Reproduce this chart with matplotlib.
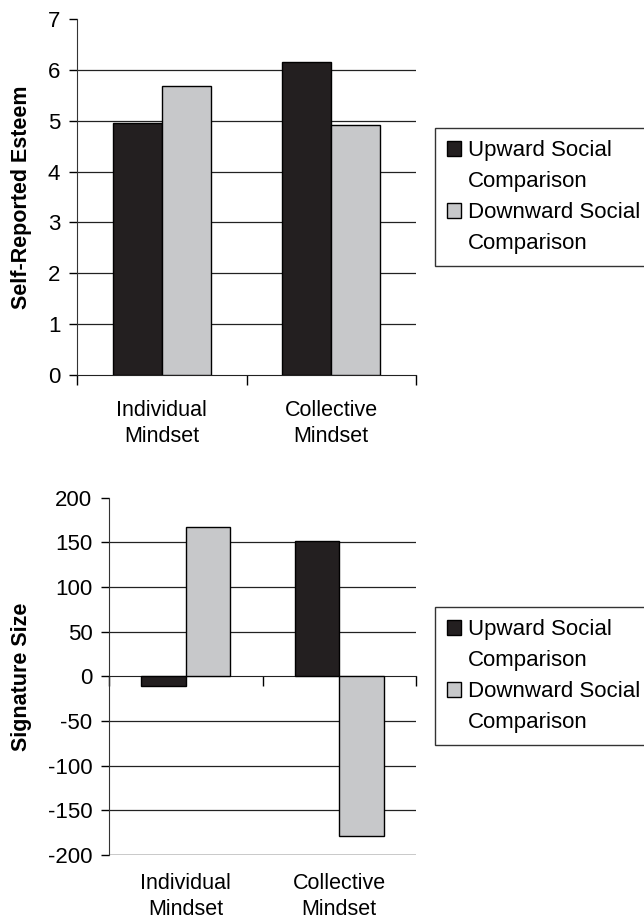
import matplotlib.pyplot as plt
from matplotlib.patches import Patch
import numpy as np

plt.rcParams['font.family'] = ['Liberation Sans', 'DejaVu Sans']

categories = ['Individual\nMindset', 'Collective\nMindset']
series_names = [['Upward Social', 'Comparison'], ['Downward Social', 'Comparison']]

esteem_upward = [4.95, 6.15]
esteem_downward = [5.68, 4.92]

signature_upward = [-11, 151]
signature_downward = [167, -179]

dark = '#231f20'
light = '#c7c8ca'
fs = 15.5


def draw_panel(ax, upward, downward, ylim, yticks, ylabel, label_x, label_gap):
    x = np.arange(len(categories))
    w = 0.29
    b1 = ax.bar(x - w / 2, upward, w, color=dark, edgecolor='black', linewidth=1, zorder=3)
    b2 = ax.bar(x + w / 2, downward, w, color=light, edgecolor='black', linewidth=1, zorder=3)

    ax.set_xlim(-0.5, len(categories) - 0.5)
    ax.set_ylim(*ylim)
    ax.set_yticks(yticks)
    ax.set_yticklabels([str(t) for t in yticks], fontsize=fs + 0.5)
    ax.tick_params(axis='y', direction='out', length=6, width=1, pad=6)

    # gridlines, but not at the very top
    for t in yticks[:-1]:
        if t != 0:
            ax.axhline(t, color='#222222', linewidth=0.9, zorder=1)

    for s in ['top', 'right']:
        ax.spines[s].set_visible(False)
    ax.spines['left'].set_color('#333333')
    ax.spines['bottom'].set_position(('data', 0))
    ax.spines['bottom'].set_color('#222222')

    ax.set_xticks(np.arange(-0.5, len(categories), 1.0))
    ax.set_xticklabels([])
    ax.tick_params(axis='x', direction='out', length=7, width=1)

    for i, c in enumerate(categories):
        ax.annotate(c, xy=(i, 0), xycoords=('data', 'axes fraction'),
                    xytext=(0, -label_gap), textcoords='offset points',
                    ha='center', va='top', fontsize=fs, linespacing=1.3)

    ax.set_ylabel(ylabel, fontsize=fs, fontweight='bold')
    ax.yaxis.set_label_coords(label_x, 0.5)
    return b1, b2


def add_legend(fig, bars, top_px):
    blank = Patch(facecolor='none', edgecolor='none')
    handles = []
    labels = []
    for b, name in zip(bars, series_names):
        handles += [b, blank]
        labels += name
    leg = fig.legend(handles, labels, loc='upper left',
                     bbox_to_anchor=(435 / 644, 1 - top_px / 924),
                     fontsize=fs + 0.5, frameon=True, fancybox=False,
                     handlelength=0.62, handleheight=0.62, handletextpad=0.3,
                     labelspacing=0.45, borderpad=0.55, borderaxespad=0)
    leg.get_frame().set_edgecolor('black')
    leg.get_frame().set_linewidth(1)
    return leg


fig = plt.figure(figsize=(6.44, 9.24), dpi=100)

ax1 = fig.add_axes([0.1196, 0.5942, 0.5264, 0.3852])
h = draw_panel(ax1, esteem_upward, esteem_downward, (0, 7), list(range(0, 8)),
               'Self-Reported Esteem', -0.133, 18)
add_legend(fig, h, 128)

ax2 = fig.add_axes([0.1693, 0.0747, 0.4767, 0.3867])
h = draw_panel(ax2, signature_upward, signature_downward, (-200, 200), list(range(-200, 201, 50)),
               'Signature Size', -0.252, 13)
ax2.axhline(-200, color='#222222', linewidth=0.9, zorder=1)
add_legend(fig, h, 607)

fig.savefig('out.png', dpi=100)
